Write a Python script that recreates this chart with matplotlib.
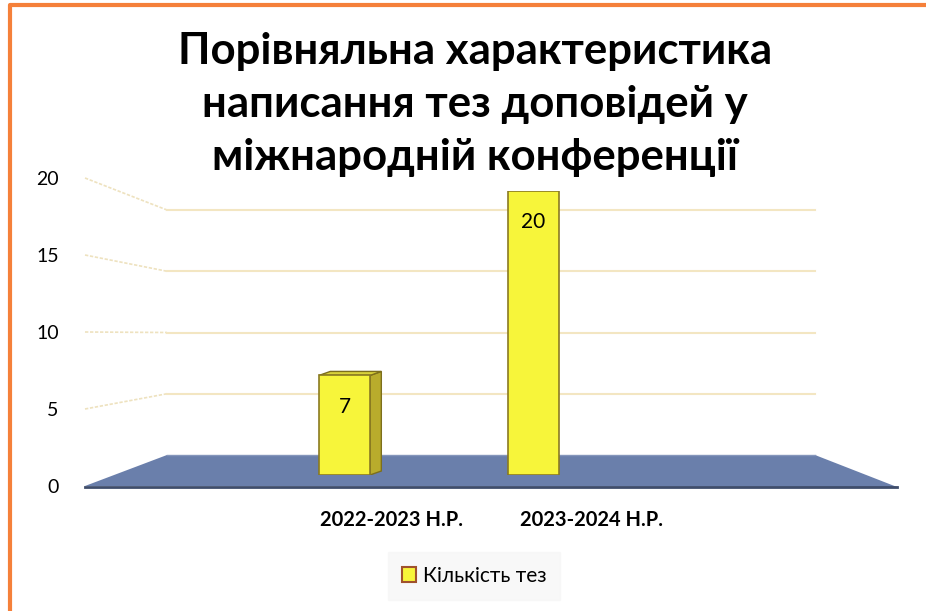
import matplotlib.pyplot as plt
from matplotlib.patches import Polygon, Rectangle

plt.rcParams['font.family'] = ['Lato', 'DejaVu Sans']

title = "Порівняльна характеристика\nнаписання тез доповідей у\nміжнародній конференції"
years = ["2022-2023 Н.Р.", "2023-2024 Н.Р."]
counts = [7, 20]
series_name = "Кількість тез"
y_ticks = [0, 5, 10, 15, 20]

W, H = 926, 611


def fx(px):
    return px / W


def fy(py):
    return 1 - py / H


fig = plt.figure(figsize=(W / 100, H / 100), dpi=100)

# background layer in pixel coordinates (walls, floor, frame)
bg = fig.add_axes([0, 0, 1, 1])
bg.set_xlim(0, W)
bg.set_ylim(H, 0)
bg.axis("off")

# orange frame (left and top only visible)
bg.plot([10, 10, W], [H, 5, 5], color="#f5803a", lw=3, solid_capstyle="butt")

front_l, back_l, back_r, front_r = 85, 167, 815, 897
front0, front_k = 486, 15.4
back0, back_k = 455, 12.25

for v in y_ticks[1:]:
    yf = front0 - v * front_k
    yb = back0 - v * back_k
    bg.plot([front_l, back_l], [yf, yb], color="#eee2bf", lw=1.2, ls=(0, (2, 1)))
    bg.plot([back_l, back_r], [yb, yb], color="#f3e6c2", lw=1.5)

floor = Polygon([(front_l, front0), (back_l, back0), (back_r, back0), (front_r, front0 + 1)],
                closed=True, facecolor="#6a7fab", edgecolor="none")
bg.add_patch(floor)
bg.plot([front_l, front_r], [front0 + 1, front0 + 1], color="#3f4d6b", lw=2)
bg.plot([back_l, back_r], [back0, back0], color="#8596bb", lw=1)

# front axis: tick labels for values and categories
fr = fig.add_axes([fx(front_l), fy(front0), fx(front_r) - fx(front_l), (front0 - 178) / H])
fr.set_facecolor("none")
cat_a, cat_b = 391, 592
k = cat_b - cat_a
fr.set_xlim((front_l - cat_a) / k, (front_r - cat_a) / k)
fr.set_ylim(0, 20)
for s in fr.spines.values():
    s.set_visible(False)
fr.set_yticks(y_ticks)
fr.set_yticklabels([str(v) for v in y_ticks], fontsize=14)
fr.set_xticks(range(len(years)))
fr.set_xticklabels(years, fontsize=14.5, fontweight="bold")
fr.tick_params(axis="y", length=0, pad=19)
fr.tick_params(axis="x", length=0, pad=17)

# bar plane
bar_l, bar_r = 250, 628
bar_bottom, bar_top = 475, 190.5
ax = fig.add_axes([fx(bar_l), fy(bar_bottom), fx(bar_r) - fx(bar_l), (bar_bottom - bar_top) / H])
ax.set_facecolor("none")
ax.set_xlim(-0.5, len(years) - 0.5)
ax.set_ylim(0, 20)
ax.axis("off")

width = 0.27
xs = list(range(len(years)))
bars = ax.bar(xs, counts, width=width, color="#f7f53a", edgecolor="#8a7a22", linewidth=1.2,
              zorder=3, label=series_name)

px_y = (bar_bottom - bar_top) / 20
vp = 0.95
for x, v in zip(xs, counts):
    dx = 0.063 * (vp - x)
    if dx <= 0.005:
        continue
    dy = 4 / px_y
    xr = x + width / 2
    xl = x - width / 2
    side = Polygon([(xr, 0), (xr + dx, dy), (xr + dx, v + dy), (xr, v)], closed=True,
                   facecolor="#b9ac2c", edgecolor="#7d6f1c", lw=1, zorder=2)
    top = Polygon([(xl, v), (xl + dx, v + dy), (xr + dx, v + dy), (xr, v)], closed=True,
                  facecolor="#d9d23a", edgecolor="#7d6f1c", lw=1, zorder=2)
    ax.add_patch(side)
    ax.add_patch(top)

for x, v in zip(xs, counts):
    ax.text(x, v - 2.2, str(v), ha="center", va="center", fontsize=15, zorder=5)

fig.text(fx(475), fy(104), title, ha="center", va="center", fontsize=31.5,
         fontweight="bold", linespacing=1.4)

handle = Rectangle((0, 0), 1, 1, facecolor="#f7f53a", edgecolor="#a0522d", lw=1.5)
leg = fig.legend([handle], [series_name], loc="center", bbox_to_anchor=(fx(474), fy(576)),
                 fontsize=15, frameon=True, fancybox=False, handlelength=0.7,
                 handleheight=0.7, handletextpad=0.3, borderpad=0.65)
leg.get_frame().set_facecolor("#f7f7f7")
leg.get_frame().set_edgecolor("#f7f7f7")

fig.savefig("out.png", dpi=100)
